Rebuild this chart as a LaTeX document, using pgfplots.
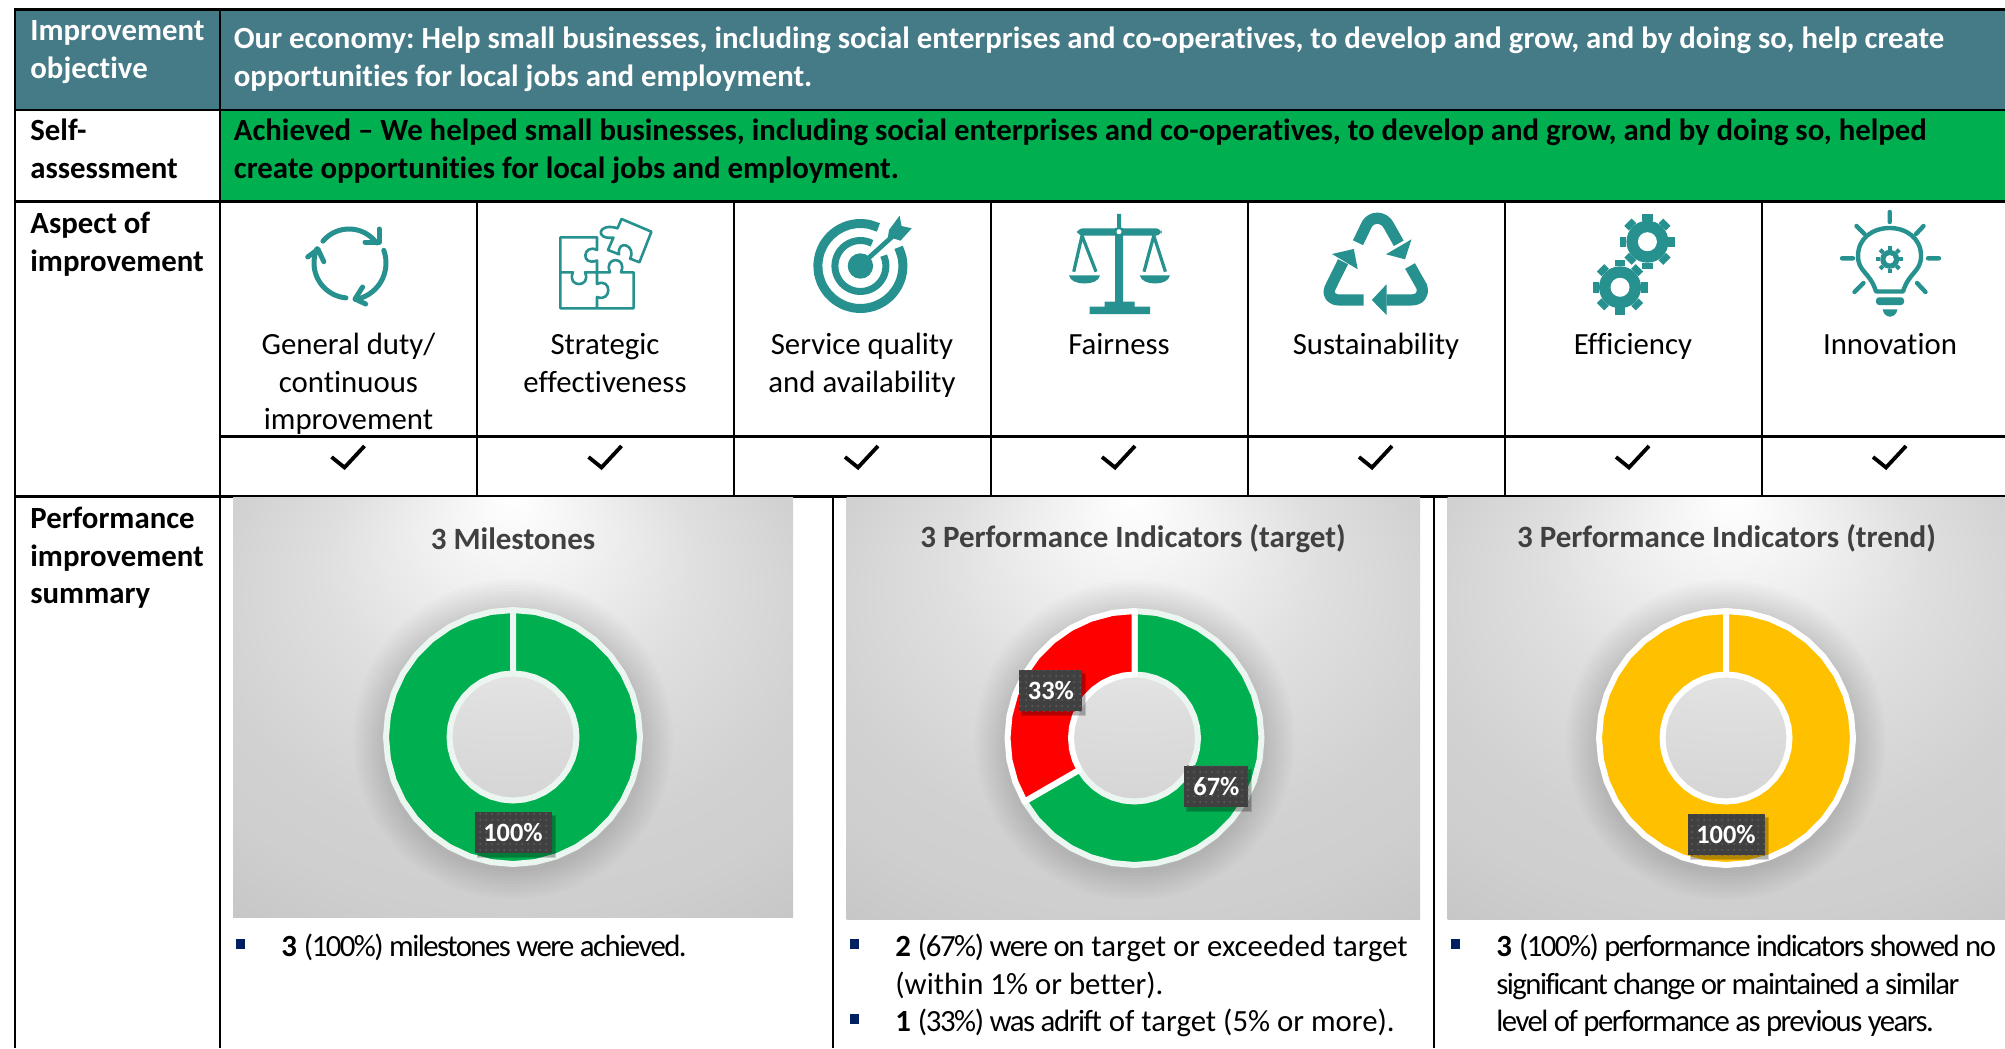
\documentclass[border=0pt]{standalone}
\usepackage{fontspec}
\setmainfont{Carlito}[Ligatures=NoCommon]
\newfontfamily\tight{Carlito}[Ligatures=NoCommon,LetterSpace=-5]
\newfontfamily\tightmid{Carlito}[Ligatures=NoCommon,LetterSpace=-4.7]
\usepackage{pgfplots}
\usepackage{pgfplotstable}
\pgfplotsset{compat=1.18}
\usepgfplotslibrary{polar}
\usetikzlibrary{patterns}
\definecolor{objbar}{HTML}{457A87}
\definecolor{okgreen}{HTML}{00B050}
\definecolor{okedge}{HTML}{EAF6EF}
\definecolor{amber}{HTML}{FFC000}
\definecolor{icon}{HTML}{26918F}
\definecolor{navy}{HTML}{002060}
\definecolor{tag}{HTML}{404040}
\definecolor{tagdot}{HTML}{5E5E5E}
\definecolor{heading}{HTML}{404040}
\pgfdeclareradialshading{panelshade}{\pgfpoint{0bp}{25bp}}{rgb(0bp)=(1,1,1); rgb(16.5bp)=(0.875,0.875,0.875); rgb(27.5bp)=(0.82,0.82,0.82); rgb(33bp)=(0.81,0.81,0.81); rgb(39.3bp)=(0.78,0.78,0.78); rgb(50bp)=(0.73,0.73,0.73)}
\newcommand\headf{\fontsize{15.4}{18}\selectfont}
\newcommand\titlef{\fontsize{15.5}{18}\selectfont\bfseries}
\newcommand\tagf{\fontsize{13.2}{15}\selectfont\bfseries}
% donut rings: angle (degrees), radius (pixels of the reference)
\pgfplotstableread[row sep=\\]{a r\\90 127\\80 127\\70 127\\60 127\\50 127\\40 127\\30 127\\20 127\\10 127\\0 127\\-10 127\\-20 127\\-30 127\\-40 127\\-50 127\\-60 127\\-70 127\\-80 127\\-90 127\\-100 127\\-110 127\\-120 127\\-130 127\\-140 127\\-150 127\\-160 127\\-170 127\\-180 127\\-190 127\\-200 127\\-210 127\\-220 127\\-230 127\\-240 127\\-250 127\\-260 127\\-270 127\\-270 63.5\\-260 63.5\\-250 63.5\\-240 63.5\\-230 63.5\\-220 63.5\\-210 63.5\\-200 63.5\\-190 63.5\\-180 63.5\\-170 63.5\\-160 63.5\\-150 63.5\\-140 63.5\\-130 63.5\\-120 63.5\\-110 63.5\\-100 63.5\\-90 63.5\\-80 63.5\\-70 63.5\\-60 63.5\\-50 63.5\\-40 63.5\\-30 63.5\\-20 63.5\\-10 63.5\\0 63.5\\10 63.5\\20 63.5\\30 63.5\\40 63.5\\50 63.5\\60 63.5\\70 63.5\\80 63.5\\90 63.5\\}\ringfull
\pgfplotstableread[row sep=\\]{a r\\90 127\\80 127\\70 127\\60 127\\50 127\\40 127\\30 127\\20 127\\10 127\\0 127\\-10 127\\-20 127\\-30 127\\-40 127\\-50 127\\-60 127\\-70 127\\-80 127\\-90 127\\-100 127\\-110 127\\-120 127\\-130 127\\-140 127\\-150 127\\-150 63.5\\-140 63.5\\-130 63.5\\-120 63.5\\-110 63.5\\-100 63.5\\-90 63.5\\-80 63.5\\-70 63.5\\-60 63.5\\-50 63.5\\-40 63.5\\-30 63.5\\-20 63.5\\-10 63.5\\0 63.5\\10 63.5\\20 63.5\\30 63.5\\40 63.5\\50 63.5\\60 63.5\\70 63.5\\80 63.5\\90 63.5\\}\ringgreen
\pgfplotstableread[row sep=\\]{a r\\90 127\\100 127\\110 127\\120 127\\130 127\\140 127\\150 127\\160 127\\170 127\\180 127\\190 127\\200 127\\210 127\\210 63.5\\200 63.5\\190 63.5\\180 63.5\\170 63.5\\160 63.5\\150 63.5\\140 63.5\\130 63.5\\120 63.5\\110 63.5\\100 63.5\\90 63.5\\}\ringred
\pgfplotsset{donut/.style={scale only axis,width=130pt,height=130pt,xmin=0,xmax=360,ymin=0,ymax=130,hide axis,clip=false,anchor=center}}
\newcommand\parc[6]{\draw[#1] plot[domain=#5:#6,samples=24,smooth,variable=\t] ({#2+#4*cos(\t)},{#3-#4*sin(\t)});}
\newcommand\gear[5]{%
  \fill[icon] (#1,#2) circle[radius=#3];
  \foreach \a in {0,45,...,315}{\draw[icon,line width=#5] ({#1+#3*cos(\a)},{#2+#3*sin(\a)}) -- ({#1+(#4)*cos(\a)},{#2+(#4)*sin(\a)});}
}
\newcommand\tagbox[3]{% angle, radius, width
  \path (axis cs:#1,#2) node[fill=black,opacity=0.16,minimum width=#3+1pt,minimum height=21.5pt,inner sep=0,xshift=1.5pt,yshift=-2pt]{};
  \path (axis cs:#1,#2) node[fill=black,opacity=0.16,minimum width=#3,minimum height=20.5pt,inner sep=0,xshift=1.5pt,yshift=-2pt]{};
  \path (axis cs:#1,#2) node[fill=tag,minimum width=#3,minimum height=20.5pt,inner sep=0]{};
  \path (axis cs:#1,#2) node[pattern=dots,pattern color=tagdot,minimum width=#3,minimum height=20.5pt,inner sep=0]{};
}
\newcommand\bulletsq[2]{\fill[navy] (#1,#2) rectangle ({#1+9},{#2+10});}
\tikzset{px/.style={x=0.5pt,y=-0.5pt},
  bt/.style={anchor=base west,inner sep=0,font=\headf},
  ct/.style={anchor=base,inner sep=0,font=\headf},
  tl/.style={inner sep=0,font=\titlef,text=heading},
  gr/.style={black,line width=1pt}}
\begin{document}
\frenchspacing
\begin{tikzpicture}
\path[use as bounding box] (0,0) rectangle (1002.5pt,-524pt);
\clip (0,0) rectangle (1002.5pt,-524pt);
\begin{scope}[px]
\fill[white] (0,0) rectangle (2005,1048);
% table fills
\fill[objbar] (15,10) rectangle (2005,110);
\fill[okgreen] (220,110) rectangle (2005,201.7);
% table text
\node[bt,text=white] at (30,41) {\bfseries Improvement};
\node[bt,text=white] at (30,79) {\bfseries objective};
\node[bt,text=white] at (233.5,49) {\bfseries Our economy: Help small businesses, including social enterprises and co-operatives, to develop and grow, and by doing so, help create};
\node[bt,text=white] at (233.5,87) {\bfseries opportunities for local jobs and employment.};
\node[bt] at (30,140.5) {\bfseries Self-};
\node[bt] at (30,178.5) {\bfseries assessment};
\node[bt] at (233.5,140.5) {\bfseries Achieved -- We helped small businesses, including social enterprises and co-operatives, to develop and grow, and by doing so, helped};
\node[bt] at (233.5,178.5) {\bfseries create opportunities for local jobs and employment.};
\node[bt] at (30,233.8) {\bfseries Aspect of};
\node[bt] at (30,271.5) {\bfseries improvement};
\node[bt] at (30,528.5) {\bfseries Performance};
\node[bt] at (30,566.7) {\bfseries improvement};
\node[bt] at (30,603.5) {\bfseries summary};
\node[ct] at (348.5,354.8) {General duty/};
\node[ct] at (348.5,392.5) {continuous};
\node[ct] at (348.5,429.7) {improvement};
\node[ct] at (605,354.8) {Strategic};
\node[ct] at (605,392.5) {effectiveness};
\node[ct] at (862,354.8) {Service quality};
\node[ct] at (862,392.5) {and availability};
\node[ct] at (1119,354.8) {Fairness};
\node[ct] at (1376,354.8) {Sustainability};
\node[ct] at (1633,354.8) {Efficiency};
\node[ct] at (1890,354.8) {Innovation};
% grid
\draw[black,line width=1.5pt] (14,10) -- (2005,10);
\draw[gr,line width=1.3pt] (14,110) -- (2005,110) (14,201.7) -- (2005,201.7) (220,436.7) -- (2005,436.7) (14,496.7) -- (2005,496.7);
\draw[gr] (15,10) -- (15,1048) (220,10) -- (220,1048);
\foreach \vx in {477,733.5,990.5,1247.5,1504.5,1761.5}{\draw[gr] (\vx,201.7) -- (\vx,496.7);}
\draw[gr] (833,496.7) -- (833,1048) (1434,496.7) -- (1434,1048);
% ticks
\foreach \cx in {348.5,605.5,862,1119,1376,1633,1890}{
  \draw[black,line width=1.9pt,line join=miter] ({\cx-17},457) -- ({\cx-4},467.5) -- ({\cx+16},446);
}
% icon 1: circular arrows
\parc{icon,line width=2.5pt,line cap=round}{349}{263}{34}{140}{36}
\parc{icon,line width=2.5pt,line cap=round}{349}{263}{37}{20}{-80}
\parc{icon,line width=2.5pt,line cap=round}{349}{263}{35}{-95}{-204}
\draw[icon,line width=2.5pt,line cap=round,line join=round] (379,229) -- (379,242) -- (365,242);
\draw[icon,line width=2.5pt,line cap=round,line join=round] (362.6,287) -- (355,299) -- (365.7,304);
\draw[icon,line width=2.5pt,line cap=round,line join=round] (307.7,257) -- (318,249.3) -- (323.8,261.7);
% icon 2: puzzle
\draw[icon,line width=1.3pt,line join=round]
  (597,272.3) -- (597,260.5) .. controls (580,267) and (583,243) .. (597,250) -- (597,237.3) -- (560.4,237.3) -- (560.4,308.3) -- (633.6,308.3) -- (633.6,272.3) -- (621,272.3) .. controls (628,256) and (603,256) .. (610,272.3) -- (597,272.3)
  -- (585,272.3) .. controls (592,288) and (566,288) .. (573,272.3) -- (560.4,272.3)
  (597,272.3) -- (597,284) .. controls (612,277) and (612,303) .. (597,297) -- (597,308.3);
\draw[icon,line width=1.3pt,line join=round]
  (621.5,219) -- (651.4,231.7) -- (639.4,262.3) -- (630,258.6) .. controls (637,246) and (617,238) .. (619,254.3) -- (608,250) -- (613.4,237.6) .. controls (594,240) and (598,222) .. (617.5,228.3) -- cycle;
% icon 3: target
\parc{icon,line width=4.5pt}{860.4}{266}{42.5}{65}{386}
\parc{icon,line width=3.5pt}{860.4}{266}{25.5}{63}{384}
\fill[icon] (860.4,266) circle[radius=12.7];
\draw[icon,line width=2.4pt] (862,264) -- (894,235);
\fill[icon] (889,230) -- (899.6,215.7) -- (901.5,226) -- (911.7,228.3) -- (900.5,240.7) -- (888,236.7) -- cycle;
% icon 4: scales
\fill[icon] (1115,228) rectangle (1123,302) (1117,214) rectangle (1121,230);
\fill[icon,rounded corners=3pt] (1077,228.3) rectangle (1161.5,235.7);
\fill[white] (1119,231.7) circle[radius=2.5];
\fill[icon] (1104.5,301.7) rectangle (1134.6,307) (1089.7,306.7) rectangle (1150,314);
\draw[icon,line width=1.6pt] (1073.7,271.7) -- (1082,235.7) -- (1096,271.7) (1144,271.7) -- (1153.8,235.7) -- (1165.4,271.7);
\fill[icon] (1069,275.3) -- (1100,275.3) .. controls (1099,281) and (1092,283.5) .. (1084.5,283.5) .. controls (1077,283.5) and (1070,281) .. (1069,275.3) -- cycle;
\fill[icon] (1139.7,275.3) -- (1170,275.3) .. controls (1169,281) and (1162,283.5) .. (1155,283.5) .. controls (1148,283.5) and (1141,281) .. (1139.7,275.3) -- cycle;
% icon 5: recycling
\draw[icon,line width=5.6pt,line join=round] (1358,242.7) -- (1367,224) .. controls (1372,216) and (1384,216) .. (1389,226) -- (1398.7,243.3);
\fill[icon] (1411.5,239.3) -- (1405,259.3) -- (1386,254.3) -- cycle;
\draw[icon,line width=5.6pt,line join=round] (1343,261.7) -- (1330,288) .. controls (1327,296) and (1332,300) .. (1340,300) -- (1363.5,300);
\fill[icon] (1353.8,249) -- (1332,254) -- (1357.7,269.3) -- cycle;
\draw[icon,line width=5.6pt,line join=round] (1410,266) -- (1421.8,286.7) .. controls (1424,296) and (1419,300) .. (1410,300) -- (1386.5,300);
\fill[icon] (1371.8,300) -- (1386.5,284.3) -- (1386.5,315) -- cycle;
% icon 6: gears
\gear{1647.4}{241.7}{21}{27.5}{5.2pt}
\fill[white] (1647.4,241.7) circle[radius=9.5];
\gear{1620}{287.3}{21}{27.5}{5.2pt}
\fill[white] (1620,287.3) circle[radius=9.5];
% icon 7: bulb
\draw[icon,line width=2.2pt,line join=round] (1876,291.5) .. controls (1870,272) and (1858,272) .. (1858,256) .. controls (1858,238) and (1873,228) .. (1889.7,228) .. controls (1906,228) and (1921,238) .. (1921,256) .. controls (1921,272) and (1909,272) .. (1903,291.5) -- cycle;
\draw[icon,line width=2.2pt,line cap=round] (1889.7,212) -- (1889.7,222) (1856.5,226) -- (1864.5,234) (1923.5,226) -- (1916,234) (1842,258.3) -- (1853,258.3) (1928,258.3) -- (1939,258.3) (1854.5,292) -- (1863.5,283) (1925.5,292) -- (1917,283);
\fill[icon,rounded corners=1.5pt] (1876,297.3) rectangle (1904,305);
\fill[icon] (1882.7,309.3) -- (1897.4,309.3) .. controls (1897,314) and (1893,316.7) .. (1890,316.7) .. controls (1887,316.7) and (1883,314) .. (1882.7,309.3) -- cycle;
\gear{1889.7}{259.3}{9.5}{13.5}{2pt}
\fill[white] (1889.7,259.3) circle[radius=4.2];
% panels
\fill[shading=panelshade] (233,497) rectangle (793,917);
\fill[shading=panelshade] (846.5,497) rectangle (1420,919);
\fill[shading=panelshade] (1447.6,497) rectangle (2021,919);
\foreach \dx/\dy in {513/737,1134.5/738,1726/738}{
  \foreach \rr in {133,136,...,160}{\fill[black,opacity=0.011,even odd rule] (\dx,{\dy+2}) circle[radius=\rr] (\dx,{\dy+2}) circle[radius=125];}
}
\node[tl] at (513,538.5) {3 Milestones};
\node[tl] at (1133,538.5) {3 Performance Indicators (target)};
\node[tl] at (1726.5,538.5) {3 Performance Indicators (trend)};
\end{scope}
% donut 1
\begin{polaraxis}[donut,at={(256.5pt,-368.5pt)}]
\addplot[fill=okgreen,draw=okedge,line width=3pt,line join=round] table[x=a,y=r] {\ringfull} -- cycle;
\tagbox{270}{95.5}{38.5pt}
\path (axis cs:270,95) node[inner sep=0,text=white,font=\tagf]{100\%};
\end{polaraxis}
% donut 2
\begin{polaraxis}[donut,at={(567.25pt,-369pt)}]
\addplot[fill=okgreen,draw=okedge,line width=3pt,line join=round] table[x=a,y=r] {\ringgreen} -- cycle;
\addplot[fill=red,draw=white,line width=3pt,line join=round] table[x=a,y=r] {\ringred} -- cycle;
\tagbox{150.5}{96}{31.5pt}
\path (axis cs:150.5,96) node[inner sep=0,text=white,font=\tagf]{33\%};
\tagbox{-30.5}{95}{32pt}
\path (axis cs:-30.5,95) node[inner sep=0,text=white,font=\tagf]{67\%};
\end{polaraxis}
% donut 3
\begin{polaraxis}[donut,at={(863pt,-369pt)}]
\addplot[fill=amber,draw=white,line width=3pt,line join=round] table[x=a,y=r] {\ringfull} -- cycle;
\tagbox{270}{96.5}{38.5pt}
\path (axis cs:270,96) node[inner sep=0,text=white,font=\tagf]{100\%};
\end{polaraxis}
% bullets
\begin{scope}[px]
\bulletsq{236}{939}
\node[bt] at (281,956.7) {\textbf{3} {\tight (100\%) milestones were achieved.}};
\bulletsq{850}{939}
\node[bt] at (895,956.7) {\textbf{2} {\tightmid (67\%) were on} target or exceeded target};
\node[bt] at (895,994.7) {(within 1\% or better).};
\bulletsq{850}{1014}
\node[bt] at (895,1031.7) {\textbf{1} {\tightmid (33\%) was adrift} of target (5\% or more).};
\bulletsq{1451}{939}
\node[bt] at (1496,956.7) {\textbf{3} {\tight (100\%) performance indicators showed no}};
\node[bt] at (1496,994.7) {{\tight significant change or maintained a similar}};
\node[bt] at (1496,1031.7) {{\tight level of performance as previous years.}};
\end{scope}
\end{tikzpicture}
\end{document}
